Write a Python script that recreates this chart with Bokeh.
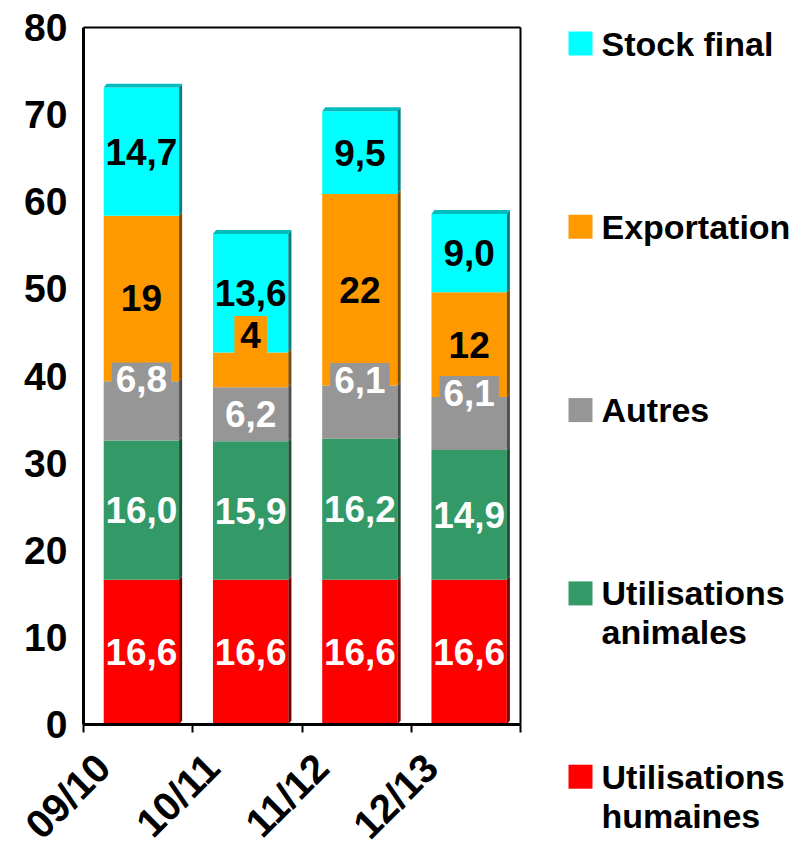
import numpy as np
from bokeh.plotting import figure
from bokeh.models import ColumnDataSource, LabelSet, FixedTicker, Range1d
from bokeh.embed import file_html
from bokeh.resources import INLINE
from bokeh.core.properties import value

# ---------------- data ----------------
campaigns = ["09/10", "10/11", "11/12", "12/13"]
series_names = ["Utilisations humaines", "Utilisations animales", "Autres",
                "Exportation", "Stock final"]
humaines = [16.6, 16.6, 16.6, 16.6]
animales = [16.0, 15.9, 16.2, 14.9]
autres = [6.8, 6.2, 6.1, 6.1]
exportation = [19, 4, 22, 12]
stock_final = [14.7, 13.6, 9.5, 9.0]
y_ticks = [0, 10, 20, 30, 40, 50, 60, 70, 80]
y_max = 80

# ---------------- style / layout ----------------
front_colors = ["#FF0000", "#339966", "#969696", "#FF9900", "#00FFFF"]
side_colors = ["#7a0000", "#1d5237", "#4d4d4d", "#7f4c00", "#008080"]
top_color = "#00bcbc"
text_colors = ["white", "white", "white", "black", "black"]
label_pad = [0, 0, 8, 12, 0]     # label box padding (thick border in fill colour)
label_nudge = [[0, 0, 0, 0], [0, 0, 0, 0], [3.6, 0, 3.7, 3.5],
               [0, 4.0, 0, 0], [0, 0, 0, 0]]
FONT = "Liberation Sans"
cat_shift = 0.32      # category centre relative to the tick-label anchor
bar_shift = 0.03
bar_w = 0.69
dx, dy = 0.028, 0.45

W, H = 800, 848
AX_LEFT_PX = 83          # page x of the y axis
AX_TOP_PX = 27           # page y of the value 80
AX_BOTTOM_PX = 724       # page y of the value 0
CAT_PX = 109.25          # px per category
upp = y_max / (AX_BOTTOM_PX - AX_TOP_PX)     # data units per px (y)

series = [humaines, animales, autres, exportation, stock_final]
vals = np.array(series, dtype=float)
tops = np.cumsum(vals, axis=0)
bottoms = tops - vals
n = len(campaigns)
xc = np.arange(n) + cat_shift + bar_shift
x_lo, x_hi_axis = cat_shift - 0.5, n + cat_shift - 0.5


def px_to_x(px):
    return x_lo + (px - AX_LEFT_PX) / CAT_PX


def py_to_y(py):
    return (AX_BOTTOM_PX - py) * upp


x_range = Range1d(px_to_x(0), px_to_x(W))
y_range = Range1d(py_to_y(H), py_to_y(0))

p = figure(width=W, height=H, x_range=x_range, y_range=y_range,
           output_backend="svg", toolbar_location=None,
           min_border_left=0, min_border_right=0, min_border_top=0,
           min_border_bottom=0)
p.xgrid.visible = False
p.ygrid.visible = False
p.outline_line_color = None
p.background_fill_color = "white"

# frame top and right
p.segment(x0=[x_lo, x_hi_axis], y0=[y_max, 0], x1=[x_hi_axis, x_hi_axis],
          y1=[y_max, y_max], line_color="black", line_width=2)

for k in range(len(series)):
    p.vbar(x=xc, width=bar_w, bottom=bottoms[k], top=tops[k],
           fill_color=front_colors[k], line_color=None)
    xs, ys = [], []
    for i in range(n):
        x1 = xc[i] + bar_w / 2
        xs.append([x1, x1 + dx, x1 + dx, x1])
        ys.append([bottoms[k][i], bottoms[k][i] + dy, tops[k][i] + dy, tops[k][i]])
    p.patches(xs, ys, fill_color=side_colors[k], line_color=None)

txs, tys = [], []
for i in range(n):
    x0, x1 = xc[i] - bar_w / 2, xc[i] + bar_w / 2
    t = tops[-1][i]
    txs.append([x0, x0 + dx, x1 + dx, x1])
    tys.append([t, t + dy, t + dy, t])
p.patches(txs, tys, fill_color=top_color, line_color=None)

for k in range(len(series)):
    if k == 3:
        txt = [f"{v:.0f}" for v in series[k]]
    else:
        txt = [f"{v:.1f}".replace(".", ",") for v in series[k]]
    ymid = (bottoms[k] + tops[k]) / 2 + np.array(label_nudge[k])
    src = ColumnDataSource(dict(x=xc, y=ymid, t=txt))
    kw = {}
    if label_pad[k] > 0:
        kw = dict(border_line_color=front_colors[k], border_line_width=label_pad[k],
                  border_line_join="miter")
    p.add_layout(LabelSet(x="x", y="y", text="t", source=src, text_align="center",
                          text_baseline="middle", text_font=value(FONT),
                          text_font_style="bold", text_font_size="37px",
                          text_color=text_colors[k],
                          background_fill_color=front_colors[k], **kw))

# axes (fixed inside the full-canvas frame so nothing gets clipped)
p.yaxis.fixed_location = x_lo
p.yaxis.ticker = FixedTicker(ticks=y_ticks)
p.yaxis.bounds = (0, y_max)
p.yaxis.major_tick_out = 0
p.yaxis.major_tick_in = 0
p.yaxis.minor_tick_out = 0
p.yaxis.minor_tick_in = 0
p.yaxis.major_label_standoff = 16
p.yaxis.axis_line_width = 3

bounds = list(np.arange(n + 1) + cat_shift - 0.5)
p.xaxis.fixed_location = 0
p.xaxis.bounds = (x_lo, x_hi_axis)
p.xaxis.ticker = FixedTicker(ticks=list(range(n)), minor_ticks=bounds)
p.xaxis.major_label_overrides = {i: c for i, c in enumerate(campaigns)}
p.xaxis.major_tick_out = 0
p.xaxis.major_tick_in = 0
p.xaxis.minor_tick_out = 8
p.xaxis.minor_tick_in = 0
p.xaxis.minor_tick_line_width = 2
p.xaxis.minor_tick_line_color = "black"
p.xaxis.axis_line_width = 3
p.xaxis.major_label_orientation = np.pi / 4
p.xaxis.major_label_standoff = 28

for ax in (p.xaxis, p.yaxis):
    ax.major_label_text_font = FONT
    ax.major_label_text_font_style = "bold"
    ax.major_label_text_font_size = "39px"
    ax.major_label_text_color = "black"
    ax.axis_line_color = "black"
p.xaxis.major_label_text_font_size = "40px"

# ---------------- legend ----------------
legend_order = [4, 3, 2, 1, 0]
legend_labels = ["Stock final", "Exportation", "Autres",
                 "Utilisations\nanimales", "Utilisations\nhumaines"]
SQ_X_PX, TXT_X_PX, FIRST_Y_PX, STEP_PX, LINE_PX = 580, 601, 43, 183.3, 39

sq_y = [py_to_y(FIRST_Y_PX + j * STEP_PX) for j in range(len(legend_order))]
p.rect(x=[px_to_x(SQ_X_PX)] * len(sq_y), y=sq_y, width=24, height=24,
       width_units="screen", height_units="screen",
       fill_color=[front_colors[k] for k in legend_order], line_color=None)
lx, ly, lt = [], [], []
for j, lab in enumerate(legend_labels):
    for m, line in enumerate(lab.split("\n")):
        lx.append(px_to_x(TXT_X_PX))
        ly.append(py_to_y(FIRST_Y_PX + j * STEP_PX + m * LINE_PX))
        lt.append(line)
p.text(x=lx, y=ly, text=lt, text_font=value(FONT), text_font_style="bold",
       text_font_size="34px", text_baseline="middle", text_align="left",
       text_color="black")

open("out.html", "w").write(file_html(p, INLINE))
